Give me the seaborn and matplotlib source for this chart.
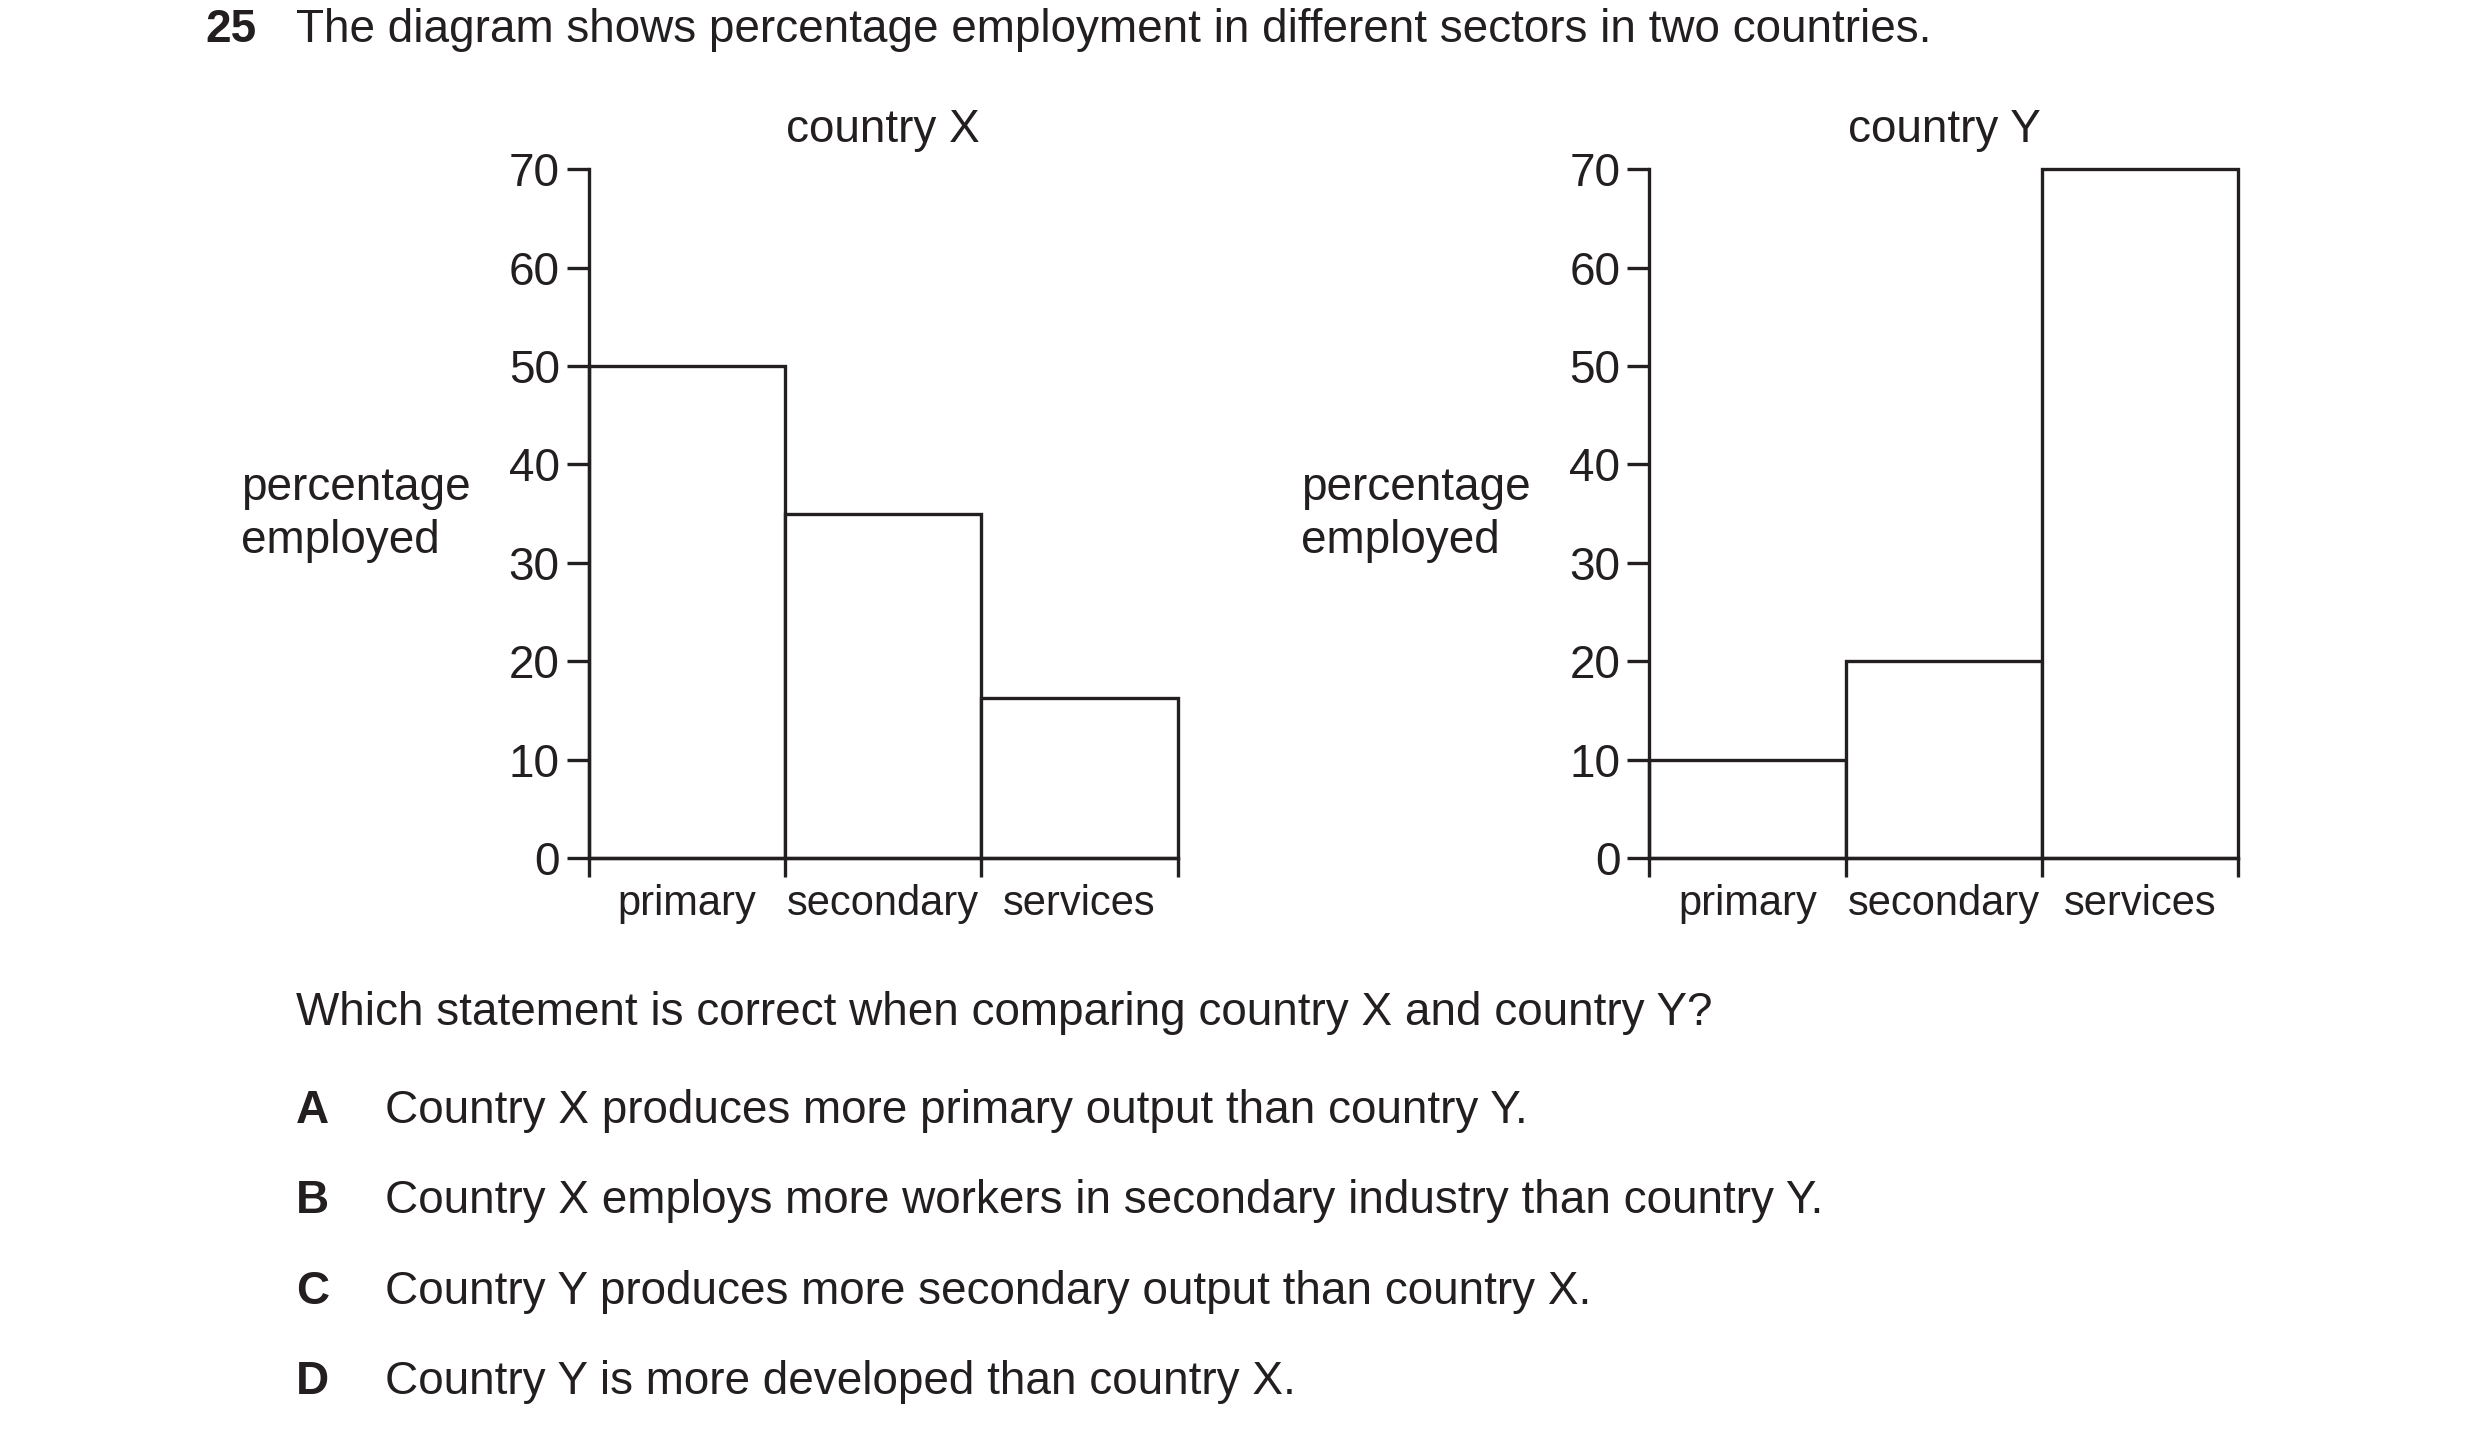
import matplotlib
matplotlib.use('agg')
import matplotlib.pyplot as plt
import seaborn as sns
import pandas as pd

sectors = ['primary', 'secondary', 'services']
country_x = [50, 35, 16.3]
country_y = [10, 20, 70]
y_ticks = [0, 10, 20, 30, 40, 50, 60, 70]

question = 'The diagram shows percentage employment in different sectors in two countries.'
prompt = 'Which statement is correct when comparing country X and country Y?'
option_keys = ['A', 'B', 'C', 'D']
option_texts = ['Country X produces more primary output than country Y.',
                'Country X employs more workers in secondary industry than country Y.',
                'Country Y produces more secondary output than country X.',
                'Country Y is more developed than country X.']

W, H = 2480, 1442
K = 1.583  # reference preview -> real pixels
INK = '#231f20'
FS = 33

sns.set_theme(style='white')
plt.rcParams['font.family'] = ['Liberation Sans', 'DejaVu Sans']
plt.rcParams['text.color'] = INK

fig = plt.figure(figsize=(W / 100, H / 100), dpi=100)
fig.patch.set_facecolor('white')


def fx(px):
    return px * K / W


def fy(py):
    return 1 - py * K / H


def draw_chart(left, right, values, title):
    top, bottom = 107, 542
    ax = fig.add_axes([fx(left), fy(bottom), fx(right) - fx(left), fy(top) - fy(bottom)])
    df = pd.DataFrame({'sector': sectors, 'pct': values})
    sns.barplot(data=df, x='sector', y='pct', width=1, color='white',
                edgecolor=INK, linewidth=2.4, saturation=1, ax=ax)
    for p in ax.patches:
        p.set_clip_on(False)
    ax.set_xlim(-0.5, 2.5)
    ax.set_ylim(0, 70)
    ax.set_facecolor('none')
    for s in ['top', 'right']:
        ax.spines[s].set_visible(False)
    for s in ['left', 'bottom']:
        ax.spines[s].set_color(INK)
        ax.spines[s].set_linewidth(2.4)
    ax.set_yticks(y_ticks)
    ax.set_yticklabels([str(t) for t in y_ticks])
    ax.set_xticks([-0.5, 0.5, 1.5, 2.5])
    ax.set_xticklabels([])
    ax.set_xticks([0, 1, 2], minor=True)
    ax.set_xticklabels(sectors, minor=True)
    ax.tick_params(axis='y', which='major', direction='out', length=16, width=2.4,
                   color=INK, labelsize=FS, labelcolor=INK, pad=5, left=True)
    ax.tick_params(axis='x', which='major', direction='out', length=14, width=2.4,
                   color=INK, bottom=True)
    ax.tick_params(axis='x', which='minor', length=0, labelsize=30,
                   labelcolor=INK, pad=19, bottom=True)
    ax.set_xlabel('')
    ax.set_ylabel('')
    ax.grid(False)
    cx = (left + right) / 2
    fig.text(fx(cx), fy(82), title, ha='center', va='center', fontsize=FS)
    return ax


draw_chart(372, 744, country_x, 'country X')
draw_chart(1042, 1414, country_y, 'country Y')

for xl in [152, 822]:
    fig.text(fx(xl), fy(325), 'percentage\nemployed', ha='left', va='center',
             fontsize=FS, linespacing=1.28)

fig.text(fx(130), fy(19), '25', ha='left', va='center', fontsize=FS, fontweight='bold')
fig.text(fx(187), fy(19), question, ha='left', va='center', fontsize=FS)
fig.text(fx(187), fy(640), prompt, ha='left', va='center', fontsize=FS)

for i, (k, t) in enumerate(zip(option_keys, option_texts)):
    yy = 702 + i * 57
    fig.text(fx(187), fy(yy), k, ha='left', va='center', fontsize=FS, fontweight='bold')
    fig.text(fx(243), fy(yy), t, ha='left', va='center', fontsize=FS)

fig.savefig('out.png', dpi=100, facecolor='white')
